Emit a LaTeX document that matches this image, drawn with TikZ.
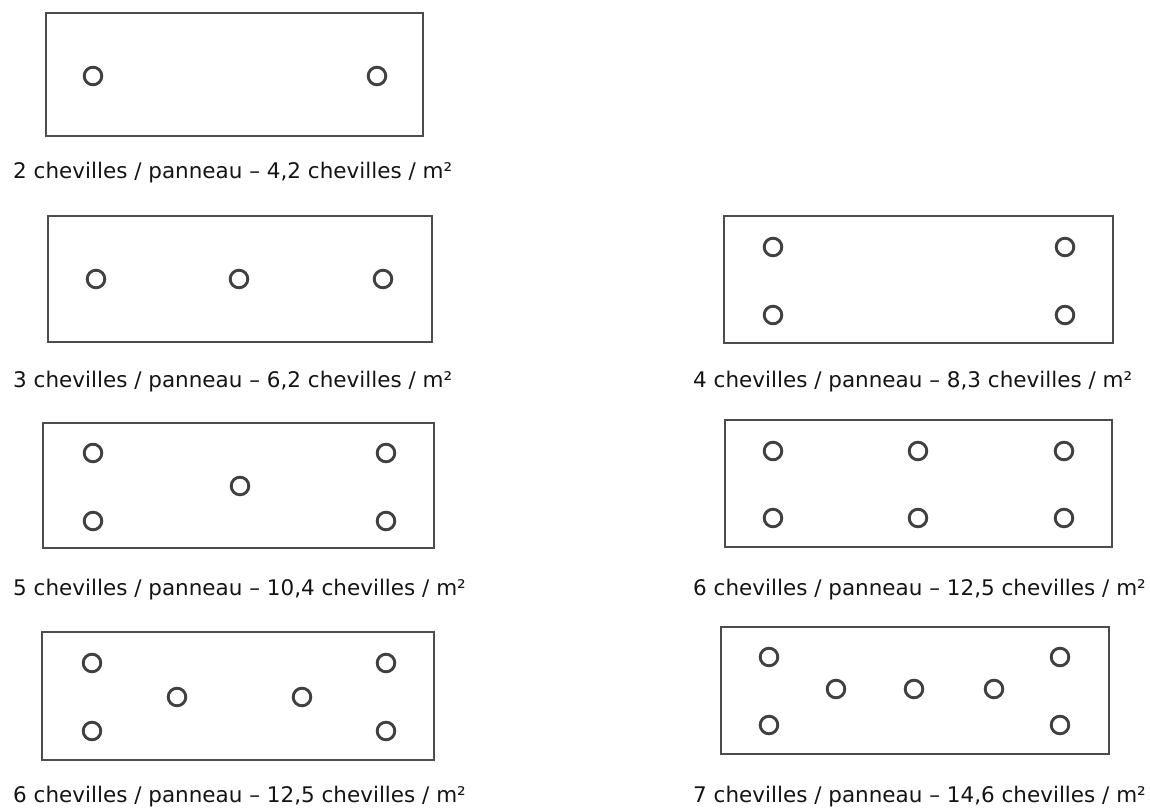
\documentclass[tikz,border=0pt]{standalone}
\usepackage{fontspec}
\setmainfont{DejaVu Sans}
\begin{document}
\begin{tikzpicture}[x=1pt,y=-1pt,
  panel/.style={draw=black!70,line width=2.6pt},
  hole/.style={draw=black!75,line width=2.9pt,fill=white},
  caption/.style={anchor=base west,inner sep=0pt,text=black!92,font=\fontsize{21.5}{24}\selectfont}]
\useasboundingbox (0,0) rectangle (1150,807);
\newcommand{\hl}[2]{\draw[hole] (#1,#2) circle (8.8);}
% panel 1
\draw[panel] (46,13) rectangle (423,136);
\hl{93}{76}\hl{377}{76}
\node[caption] (t1) at (13,178) {2 chevilles / panneau – 4,2 chevilles / m²};
% panel 2
\draw[panel] (48,216) rectangle (432,342);
\hl{96}{279}\hl{239}{279}\hl{383}{279}
\node[caption] (t2) at (13,387) {3 chevilles / panneau – 6,2 chevilles / m²};
% panel 3
\draw[panel] (724,216) rectangle (1113,343);
\hl{773}{247}\hl{1065}{247}\hl{773}{315}\hl{1065}{315}
\node[caption] (t3) at (693,387) {4 chevilles / panneau – 8,3 chevilles / m²};
% panel 4
\draw[panel] (43,423) rectangle (434,548);
\hl{93}{453}\hl{386}{453}\hl{240}{486}\hl{93}{521}\hl{386}{521}
\node[caption] (t4) at (13,595) {5 chevilles / panneau – 10,4 chevilles / m²};
% panel 5
\draw[panel] (725,420) rectangle (1112,547);
\hl{773}{451}\hl{918}{451}\hl{1064}{451}\hl{773}{518}\hl{918}{518}\hl{1064}{518}
\node[caption] (t5) at (693,595) {6 chevilles / panneau – 12,5 chevilles / m²};
% panel 6
\draw[panel] (42,632) rectangle (434,760);
\hl{92}{663}\hl{386}{663}\hl{177}{697}\hl{302}{697}\hl{92}{731}\hl{386}{731}
\node[caption] (t6) at (13,802) {6 chevilles / panneau – 12,5 chevilles / m²};
% panel 7
\draw[panel] (721,627) rectangle (1109,754);
\hl{769}{657}\hl{1060}{657}\hl{836}{689}\hl{914}{689}\hl{994}{689}\hl{769}{725}\hl{1060}{725}
\node[caption] (t7) at (693,802) {7 chevilles / panneau – 14,6 chevilles / m²};
\end{tikzpicture}
\end{document}
